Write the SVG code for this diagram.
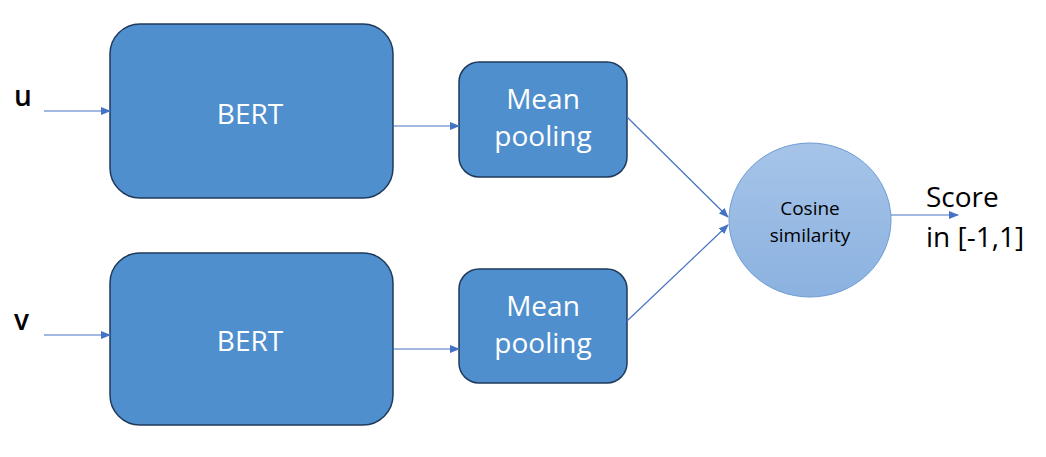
<svg xmlns="http://www.w3.org/2000/svg" width="1046" height="457" viewBox="0 0 1046 457">
<defs>
<marker id="ah" markerWidth="10" markerHeight="8" refX="9" refY="4" orient="auto" markerUnits="userSpaceOnUse">
<path d="M0,0 L10,4 L0,8 Z" fill="#4472C4"/>
</marker>
<linearGradient id="cg" x1="0" y1="0" x2="0" y2="1">
<stop offset="0" stop-color="#a6c4e8"/>
<stop offset="1" stop-color="#8bb2e0"/>
</linearGradient>
<style>
.box{fill:#4f8fcd;stroke:#1f3a5c;stroke-width:1.5}
.wt{fill:#ffffff;font-family:"Open Sans","Liberation Sans",sans-serif;text-anchor:middle}
.bt{fill:#000000;font-family:"Open Sans","Liberation Sans",sans-serif}
.ln{stroke:#4472C4;stroke-width:1.2;fill:none;marker-end:url(#ah)}
</style>
</defs>
<rect width="1046" height="457" fill="#ffffff"/>
<g id="label-u"><text class="bt" x="14" y="106" font-size="28" font-weight="600">u</text></g>
<g id="label-v"><text class="bt" x="14" y="330" font-size="28" font-weight="600">v</text></g>
<g id="bert1">
<rect class="box" x="110" y="24" width="283" height="174" rx="30"/>
<text class="wt" x="250" y="124" font-size="28">BERT</text>
</g>
<g id="bert2">
<rect class="box" x="110" y="253" width="283" height="172" rx="30"/>
<text class="wt" x="250" y="351" font-size="28">BERT</text>
</g>
<g id="pool1">
<rect class="box" x="459" y="62" width="168" height="115" rx="20"/>
<text class="wt" x="543" y="109" font-size="28">Mean</text>
<text class="wt" x="543" y="146" font-size="28">pooling</text>
</g>
<g id="pool2">
<rect class="box" x="459" y="269" width="168" height="114" rx="20"/>
<text class="wt" x="543" y="316" font-size="28">Mean</text>
<text class="wt" x="543" y="353" font-size="28">pooling</text>
</g>
<g id="cosine">
<ellipse cx="810" cy="220" rx="81" ry="77" fill="url(#cg)" stroke="#6f9bd3" stroke-width="1"/>
<text class="bt" x="810" y="215" font-size="19" text-anchor="middle" fill="#111">Cosine</text>
<text class="bt" x="810" y="242" font-size="19" text-anchor="middle" fill="#111">similarity</text>
</g>
<g id="score">
<text class="bt" x="926" y="207" font-size="28">Score</text>
<text class="bt" x="926" y="247" font-size="28">in [-1,1]</text>
</g>
<g id="connectors">
<line class="ln" x1="44" y1="111" x2="110" y2="111"/>
<line class="ln" x1="44" y1="335" x2="110" y2="335"/>
<line class="ln" x1="393" y1="126" x2="459" y2="126"/>
<line class="ln" x1="393" y1="349" x2="459" y2="349"/>
<line class="ln" x1="627" y1="117" x2="728" y2="217"/>
<line class="ln" x1="627" y1="321" x2="728" y2="225"/>
<line class="ln" x1="891" y1="215" x2="958" y2="215"/>
</g>
</svg>
